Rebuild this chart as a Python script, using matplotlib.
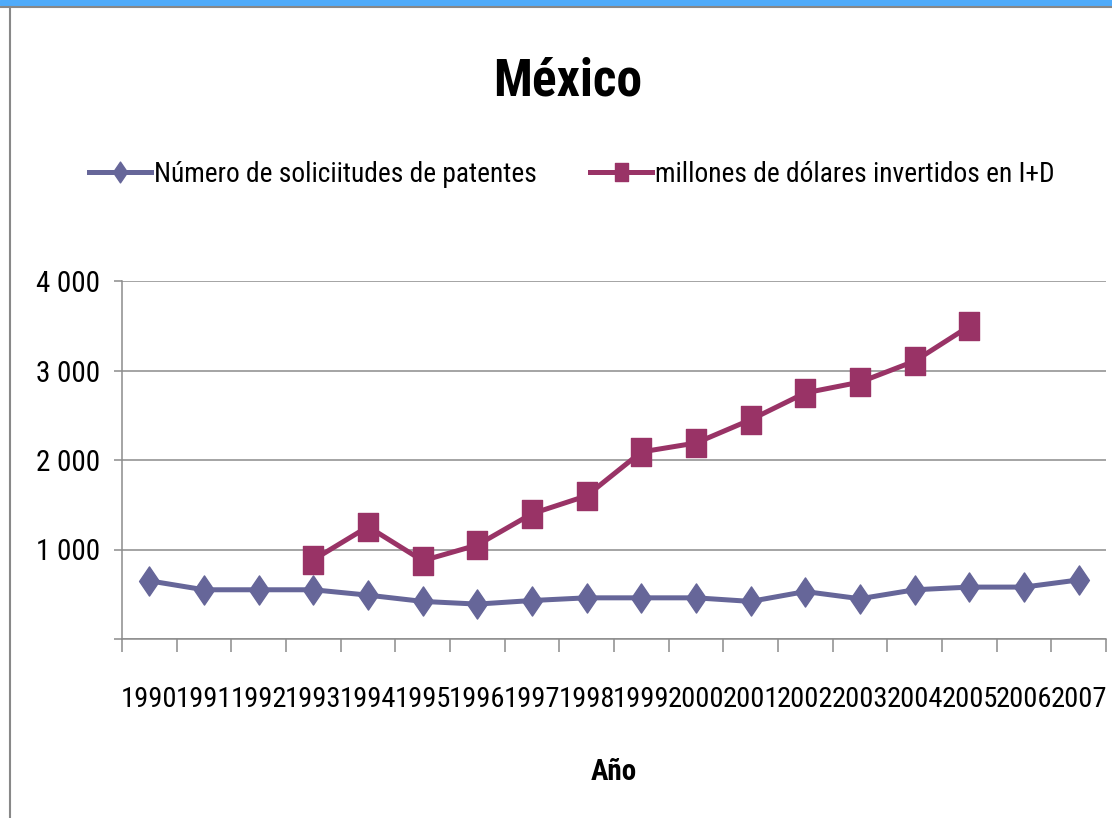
import matplotlib
matplotlib.use("Agg")
import matplotlib.pyplot as plt
from matplotlib.path import Path
from matplotlib.lines import Line2D

plt.rcParams['font.family'] = ['Roboto Condensed', 'DejaVu Sans']

years = ['1990', '1991', '1992', '1993', '1994', '1995', '1996', '1997', '1998',
         '1999', '2000', '2001', '2002', '2003', '2004', '2005', '2006', '2007']
patentes = [650, 550, 550, 550, 490, 420, 390, 430, 460, 460, 460, 420, 530, 450,
            550, 580, 580, 660]
inversion = [None, None, None, 885, 1255, 875, 1050, 1400, 1600, 2090, 2190, 2450,
             2750, 2870, 3105, 3495, None, None]
yticks = [0, 1000, 2000, 3000, 4000]
ytick_labels = ['', '1 000', '2 000', '3 000', '4 000']

title = 'México'
label_pat = 'Número de soliciitudes de patentes'
label_inv = 'millones de dólares invertidos en I+D'
xlabel = 'Año'

c_pat = '#666699'
c_inv = '#993366'
c_axis = '#8c8c8c'

# tall diamond and tall rectangle markers
diamond = Path([(0, -0.5), (0.34, 0), (0, 0.5), (-0.34, 0), (0, -0.5)],
               [Path.MOVETO, Path.LINETO, Path.LINETO, Path.LINETO, Path.CLOSEPOLY])
rect = Path([(-0.36, -0.5), (0.36, -0.5), (0.36, 0.5), (-0.36, 0.5), (-0.36, -0.5)],
            [Path.MOVETO, Path.LINETO, Path.LINETO, Path.LINETO, Path.CLOSEPOLY])

fig = plt.figure(figsize=(11.12, 8.18), dpi=100)
ax = fig.add_axes([122 / 1112, 1 - 639 / 818, (1106 - 122) / 1112, (639 - 281) / 818])

x = list(range(len(years)))
xi = [i for i, v in enumerate(inversion) if v is not None]
yi = [inversion[i] for i in xi]

ax.plot(x, patentes, color=c_pat, lw=3.6, marker=diamond, ms=21, mec=c_pat, mfc=c_pat,
        zorder=3, solid_joinstyle='miter')
ax.plot(xi, yi, color=c_inv, lw=3.6, marker=rect, ms=20, mec=c_inv, mfc=c_inv,
        zorder=3, solid_joinstyle='miter')

ax.set_xlim(-0.5, len(years) - 0.5)
ax.set_ylim(0, 4000)
ax.set_yticks(yticks)
ax.set_yticklabels(ytick_labels, fontsize=21)
ax.yaxis.grid(True, color=c_axis, lw=1.1)
ax.set_axisbelow(True)

ax.set_xticks([i - 0.5 for i in range(len(years) + 1)])
ax.set_xticklabels([])
ax.set_xticks(x, minor=True)
ax.set_xticklabels(years, minor=True, fontsize=20.5)
ax.tick_params(axis='x', which='major', length=9.4, color=c_axis, width=1.1)
ax.tick_params(axis='x', which='minor', length=0, pad=34)
ax.tick_params(axis='y', length=5.8, color=c_axis, width=1.1, pad=10)

for s in ['top', 'right']:
    ax.spines[s].set_visible(False)
for s in ['left', 'bottom']:
    ax.spines[s].set_color(c_axis)
    ax.spines[s].set_linewidth(1.1)

ax.set_xlabel(xlabel, fontsize=21, fontweight='bold', labelpad=32)

fig.text(568 / 1112, 1 - 82 / 818, title, fontsize=37, fontweight='bold',
         ha='center', va='center')

handles = [
    Line2D([], [], color=c_pat, lw=3.6, marker=diamond, ms=15, mec=c_pat, mfc=c_pat),
    Line2D([], [], color=c_inv, lw=3.6, marker=rect, ms=13, mec=c_inv, mfc=c_inv),
]
fig.legend(handles, [label_pat, label_inv], loc='center', ncol=2,
           bbox_to_anchor=(572 / 1112, 1 - 174 / 818), frameon=False, fontsize=19.7,
           handlelength=2.27, handletextpad=0.1, columnspacing=1.95)

# window frame: blue band on top, grey edges
fig.patches.append(plt.Rectangle((0, 1 - 5 / 818), 1, 5 / 818, transform=fig.transFigure,
                                 color='#4fabfa', zorder=0))
fig.lines.append(Line2D([0, 1], [1 - 6.5 / 818] * 2, transform=fig.transFigure,
                        color='#888888', lw=1.5))
fig.lines.append(Line2D([10 / 1112] * 2, [0, 1 - 6.5 / 818], transform=fig.transFigure,
                        color='#888888', lw=1.5))

fig.savefig('out.png', dpi=100)
